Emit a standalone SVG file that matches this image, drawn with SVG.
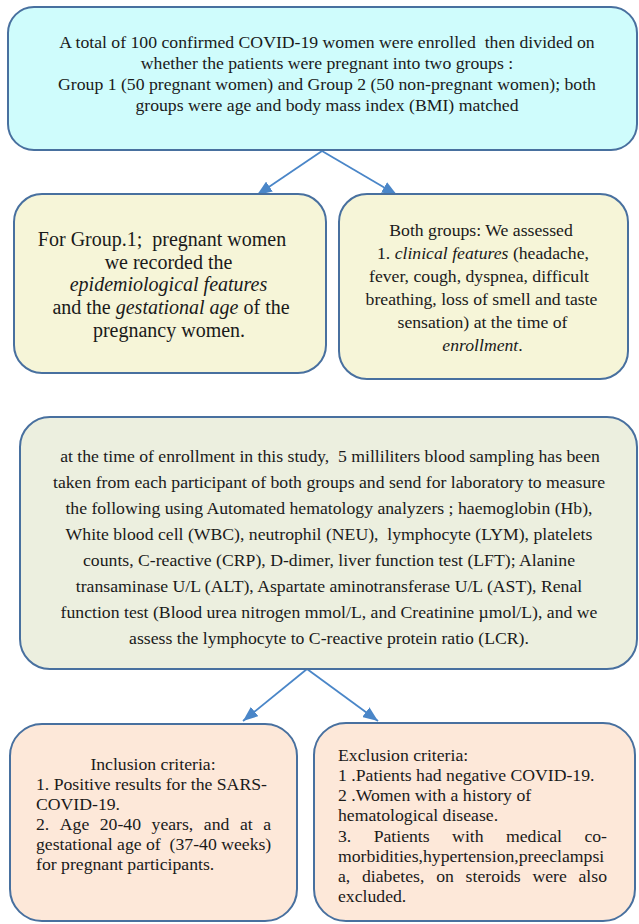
<svg xmlns="http://www.w3.org/2000/svg" width="639" height="924" viewBox="0 0 639 924">
<style>
  .box { stroke: #48709f; stroke-width: 2; }
  text { font-family: 'Liberation Serif', 'DejaVu Serif', serif; font-size: 17.7px; fill: #1a1a1a; }
  .big { font-size: 20px; }
  .c { text-anchor: middle; }
  .i { font-style: italic; }
  .conn { stroke: #4a86c8; stroke-width: 1.8; fill: none; marker-end: url(#ah); }
</style>
<defs>
  <marker id="ah" markerUnits="userSpaceOnUse" markerWidth="15" markerHeight="12" refX="15" refY="6" orient="auto">
    <path d="M0,0 L15,6 L0,12 z" fill="#4a86c8"/>
  </marker>
</defs>
<rect width="639" height="924" fill="#ffffff"/>
<g id="connectors">
  <path class="conn" d="M322,151 L257,195"/>
  <path class="conn" d="M322,151 L397,195"/>
  <path class="conn" d="M307,669 L243,721"/>
  <path class="conn" d="M307,669 L378,721"/>
</g>
<g id="enrolment">
  <rect class="box" x="8" y="7" width="629" height="143" rx="26" fill="#cffcfc"/>
  <text class="c" x="327" y="47.5">A total of 100 confirmed COVID-19 women were enrolled&#160; then divided on</text>
  <text class="c" x="327" y="68.8">whether the patients were pregnant into two groups :</text>
  <text class="c" x="327" y="90.1">Group 1 (50 pregnant women) and Group 2 (50 non-pregnant women); both</text>
  <text class="c" x="327" y="111.4">groups were age and body mass index (BMI) matched</text>
</g>
<g id="group1">
  <rect class="box" x="14" y="194" width="312" height="179" rx="28" fill="#f6f5d8"/>
  <text class="big c" x="162" y="245.7">For Group.1;&#160; pregnant women</text>
  <text class="big c" x="168.5" y="268.5">we recorded the</text>
  <text class="big c i" x="168.5" y="291.2">epidemiological features</text>
  <text class="big c" x="171" y="314">and the <tspan class="i">gestational age</tspan> of the</text>
  <text class="big c" x="169" y="336.7">pregnancy women.</text>
</g>
<g id="both-groups">
  <rect class="box" x="339" y="194" width="289" height="185" rx="28" fill="#f6f5d8"/>
  <text class="c" x="481" y="236">Both groups: We assessed</text>
  <text class="c" x="483" y="259">1. <tspan class="i">clinical features</tspan> (headache,</text>
  <text class="c" x="479" y="282">fever, cough, dyspnea, difficult</text>
  <text class="c" x="481.5" y="305">breathing, loss of smell and taste</text>
  <text class="c" x="482.5" y="328">sensation) at the time of</text>
  <text class="c" x="482.5" y="351"><tspan class="i">enrollment</tspan>.</text>
</g>
<g id="blood-sampling">
  <rect class="box" x="20" y="417" width="617" height="252" rx="30" fill="#ecefdf"/>
  <text class="c" x="330" y="462">at the time of enrollment in this study,&#160; 5 milliliters blood sampling has been</text>
  <text class="c" x="329" y="488">taken from each participant of both groups and send for laboratory to measure</text>
  <text class="c" x="329" y="514">the following using Automated hematology analyzers ; haemoglobin (Hb),</text>
  <text class="c" x="329" y="540">White blood cell (WBC), neutrophil (NEU),&#160; lymphocyte (LYM), platelets</text>
  <text class="c" x="329" y="566">counts, C-reactive (CRP), D-dimer, liver function test (LFT); Alanine</text>
  <text class="c" x="329" y="592">transaminase U/L (ALT), Aspartate aminotransferase U/L (AST), Renal</text>
  <text class="c" x="329" y="618">function test (Blood urea nitrogen mmol/L, and Creatinine µmol/L), and we</text>
  <text class="c" x="329" y="644">assess the lymphocyte to C-reactive protein ratio (LCR).</text>
</g>
<g id="inclusion">
  <rect class="box" x="10" y="724" width="287" height="197" rx="32" fill="#fde8d9"/>
  <text class="c" x="153" y="770">Inclusion criteria:</text>
  <text x="36" y="790">1. Positive results for the SARS-</text>
  <text x="36" y="810">COVID-19.</text>
  <text y="830"><tspan x="36">2.</tspan><tspan x="59.78">Age</tspan><tspan x="99.77">20-40</tspan><tspan x="151.56">years,</tspan><tspan x="203.83">and</tspan><tspan x="239.89">at</tspan><tspan x="263.17">a</tspan></text>
  <text x="36" y="850">gestational age of&#160; (37-40 weeks)</text>
  <text x="36" y="870">for pregnant participants.</text>
</g>
<g id="exclusion">
  <rect class="box" x="314" y="723" width="321" height="198" rx="32" fill="#fde8d9"/>
  <text x="338" y="760.7">Exclusion criteria:</text>
  <text x="338" y="781">1 .Patients had negative COVID-19.</text>
  <text x="338" y="801.1">2 .Women with a history of</text>
  <text x="338" y="821.3">hematological disease.</text>
  <text y="841.5"><tspan x="338">3.</tspan><tspan x="373.67">Patients</tspan><tspan x="452.12">with</tspan><tspan x="505.98">medical</tspan><tspan x="584.41">co-</tspan></text>
  <text x="338" y="861.7">morbidities,hypertension,preeclampsi</text>
  <text y="882"><tspan x="338">a,</tspan><tspan x="362.01">diabetes,</tspan><tspan x="436.17">on</tspan><tspan x="465.6">steroids</tspan><tspan x="532.39">were</tspan><tspan x="578.51">also</tspan></text>
  <text x="338" y="902.2">excluded.</text>
</g>
</svg>
